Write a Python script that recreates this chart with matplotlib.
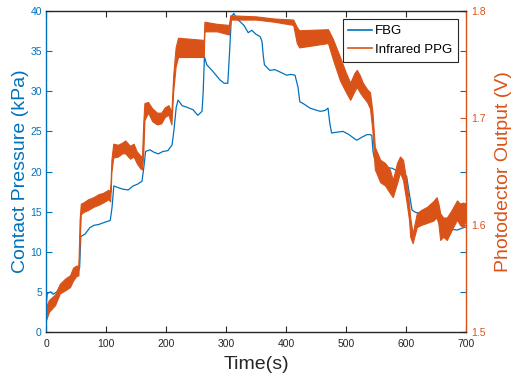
import matplotlib
matplotlib.use('Agg')
import matplotlib.pyplot as plt
from matplotlib.lines import Line2D

plt.rcParams['font.family'] = ['Liberation Sans', 'DejaVu Sans']

# FBG contact pressure (kPa)
fbg_time = [0, 2, 8, 12, 18, 23, 30, 38, 45, 50, 54, 56, 58, 65, 73, 80, 88, 95, 101, 107,
            110, 113, 120, 128, 137, 145, 152, 160, 163, 166, 173, 180, 187, 195, 203, 210,
            213, 217, 220, 227, 235, 245, 253, 260, 262, 264, 268, 279, 290, 297, 303, 306,
            309, 313, 318, 323, 330, 337, 343, 350, 357, 360, 362, 364, 373, 381, 390, 401,
            408, 415, 420, 423, 430, 440, 448, 457, 465, 470, 473, 476, 485, 495, 505, 512,
            518, 527, 535, 540, 543, 545, 548, 557, 567, 577, 590, 601, 605, 610, 616, 623,
            635, 645, 651, 658, 668, 677, 685, 692, 700]
fbg_kpa = [3.0, 4.8, 5.0, 4.7, 5.0, 5.6, 5.9, 6.2, 6.9, 7.2, 7.7, 8.0, 11.9, 12.2, 13.0, 13.3,
           13.4, 13.6, 13.75, 13.9, 15.5, 18.2, 18.0, 17.8, 17.7, 18.2, 18.4, 18.8, 20.5, 22.5,
           22.7, 22.4, 22.2, 22.5, 22.6, 23.3, 25.0, 28.0, 28.9, 28.2, 28.0, 27.7, 27.0, 27.5,
           30.0, 34.3, 33.3, 32.4, 31.4, 31.0, 31.0, 35.0, 39.3, 39.7, 39.0, 38.7, 38.2, 37.3,
           37.6, 37.1, 36.8, 36.2, 34.5, 33.3, 32.6, 32.7, 32.4, 32.0, 32.1, 32.0, 30.5, 28.7,
           28.4, 27.9, 27.7, 27.5, 27.6, 27.9, 26.0, 24.8, 24.9, 25.0, 24.6, 24.2, 23.9, 24.3,
           24.6, 24.6, 24.5, 22.5, 21.4, 20.6, 20.5, 20.4, 19.9, 19.4, 17.5, 15.2, 14.9, 14.8,
           14.6, 14.5, 14.4, 13.5, 12.7, 12.8, 12.7, 12.9, 13.1]

# Infrared PPG photodetector output (V): lower / upper edge of the noisy band
ppg_time = [0, 5, 15, 23, 32, 40, 45, 50, 54, 56, 58, 62, 70, 79, 88, 95, 104, 107, 109, 112,
            120, 127, 132, 140, 146, 151, 157, 160, 162, 164, 170, 177, 185, 192, 198, 204,
            209, 212, 216, 220, 263, 264, 285, 305, 307, 350, 380, 412, 418, 422, 470, 478,
            490, 500, 507, 514, 518, 523, 528, 535, 540, 544, 548, 557, 565, 573, 578, 585,
            590, 595, 601, 605, 607, 611, 618, 625, 635, 645, 651, 654, 657, 662, 668, 675,
            685, 690, 695, 700]
ppg_low = [1.511, 1.519, 1.525, 1.536, 1.539, 1.542, 1.548, 1.552, 1.553, 1.583, 1.610, 1.612,
           1.614, 1.617, 1.619, 1.621, 1.624, 1.622, 1.650, 1.663, 1.664, 1.667, 1.667, 1.662,
           1.664, 1.658, 1.653, 1.652, 1.665, 1.698, 1.705, 1.697, 1.694, 1.695, 1.701, 1.703,
           1.694, 1.725, 1.748, 1.757, 1.757, 1.781, 1.781, 1.778, 1.792, 1.792, 1.790, 1.787,
           1.770, 1.766, 1.770, 1.755, 1.735, 1.724, 1.717, 1.725, 1.729, 1.724, 1.720, 1.715,
           1.709, 1.688, 1.652, 1.640, 1.637, 1.630, 1.626, 1.639, 1.649, 1.642, 1.621, 1.605,
           1.589, 1.583, 1.598, 1.600, 1.602, 1.604, 1.607, 1.601, 1.586, 1.589, 1.586, 1.594,
           1.605, 1.600, 1.598, 1.605]
ppg_high = [1.524, 1.530, 1.535, 1.545, 1.550, 1.553, 1.560, 1.562, 1.562, 1.605, 1.620, 1.621,
            1.624, 1.626, 1.629, 1.630, 1.633, 1.631, 1.661, 1.676, 1.675, 1.677, 1.679, 1.674,
            1.676, 1.669, 1.665, 1.664, 1.695, 1.714, 1.715, 1.709, 1.705, 1.705, 1.710, 1.712,
            1.706, 1.740, 1.766, 1.775, 1.773, 1.790, 1.788, 1.787, 1.796, 1.795, 1.793, 1.792,
            1.785, 1.782, 1.783, 1.774, 1.757, 1.742, 1.733, 1.742, 1.745, 1.740, 1.733, 1.727,
            1.724, 1.706, 1.673, 1.661, 1.658, 1.652, 1.642, 1.658, 1.664, 1.661, 1.640, 1.620,
            1.607, 1.592, 1.611, 1.614, 1.617, 1.622, 1.626, 1.620, 1.611, 1.607, 1.607, 1.613,
            1.623, 1.620, 1.621, 1.620]

blue = '#0072BD'
orange = '#D95319'
dark = '#262626'

fig = plt.figure(figsize=(5.13, 3.81), dpi=100)
ax = fig.add_axes([0.0897, 0.1286, 0.8187, 0.8425])
ax2 = ax.twinx()

# left axis: FBG
ax.plot(fbg_time, fbg_kpa, color=blue, linewidth=0.9)
ax.set_xlim(0, 700)
ax.set_ylim(0, 40)
ax.set_xticks(range(0, 701, 100))
ax.set_yticks(range(0, 41, 5))
ax.set_xlabel('Time(s)', fontsize=14, color=dark, labelpad=5)
ax.set_ylabel('Contact Pressure (kPa)', fontsize=14, color=blue, labelpad=1)
ax.tick_params(axis='x', direction='in', top=True, length=4, labelsize=7.5,
               colors=dark, pad=5)
ax.tick_params(axis='y', direction='in', right=True, length=4, labelsize=7.5,
               colors=blue, pad=3)

# right axis: PPG band
ax2.fill_between(ppg_time, ppg_low, ppg_high, color=orange, linewidth=0.8,
                 edgecolor=orange)
ax2.set_ylim(1.5, 1.8)
ax2.set_yticks([1.5, 1.6, 1.7, 1.8])
ax2.set_ylabel('Photodector Output (V)', fontsize=14, color=orange, labelpad=6)
ax2.tick_params(axis='y', direction='in', length=4, labelsize=7.5, colors=orange, pad=4)

ax2.spines['left'].set_color(blue)
ax2.spines['right'].set_color(orange)
ax2.spines['top'].set_color(dark)
ax2.spines['bottom'].set_color(dark)
for s in ax2.spines.values():
    s.set_linewidth(1.0)
for s in ax.spines.values():
    s.set_visible(False)

handles = [Line2D([], [], color=blue, linewidth=1.2),
           Line2D([], [], color=orange, linewidth=1.2)]
leg = ax2.legend(handles, ['FBG', 'Infrared PPG'], loc='upper right',
                 bbox_to_anchor=(0.981, 0.975), fontsize=9.5, fancybox=False,
                 edgecolor=dark, framealpha=1, borderaxespad=0, handlelength=1.8,
                 handletextpad=0.2, borderpad=0.45, labelspacing=0.5)
leg.get_frame().set_linewidth(0.8)

fig.savefig('out.png', dpi=100)
